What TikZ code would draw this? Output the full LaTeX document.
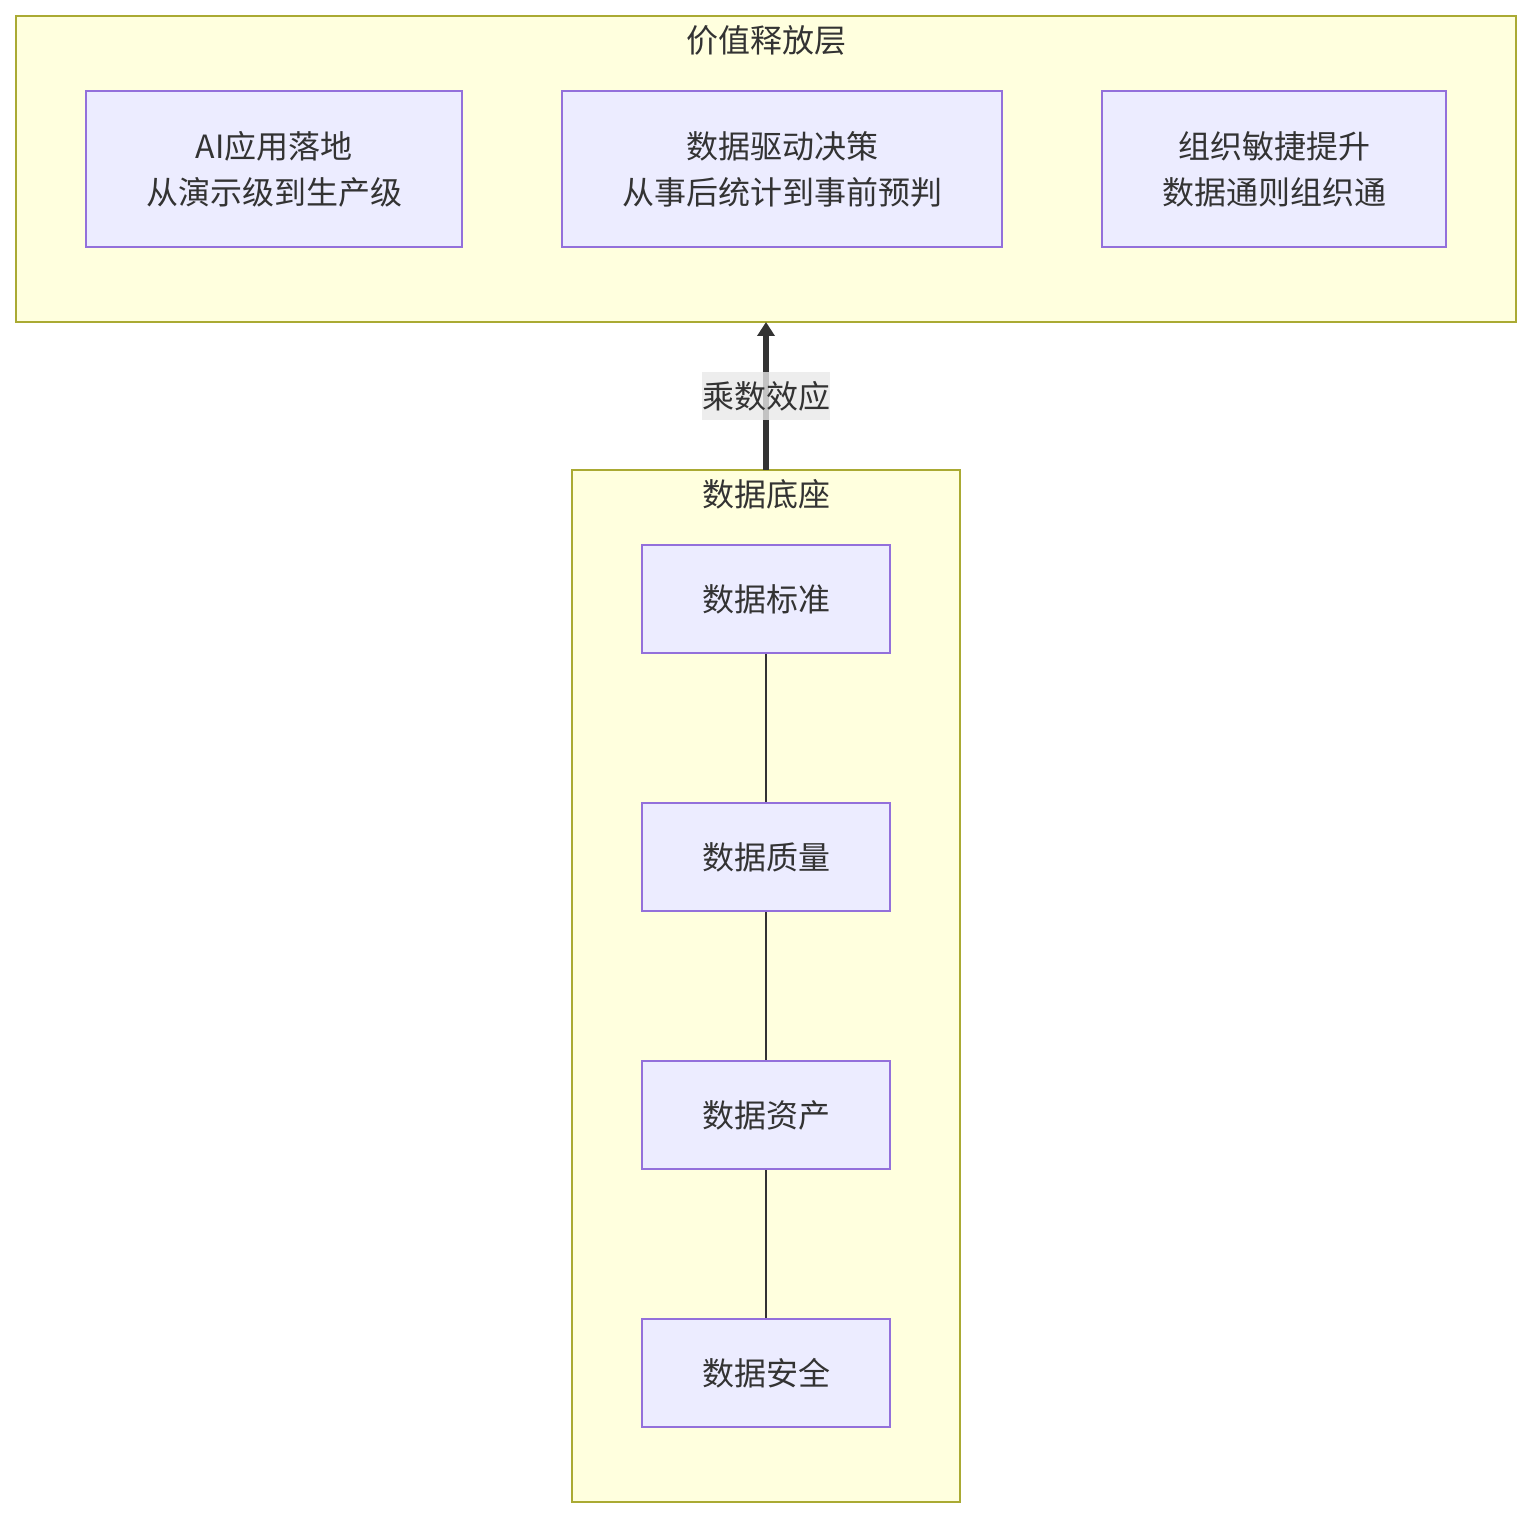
\documentclass[tikz,border=0pt]{standalone}
\usepackage{fontspec}
\setmainfont{Noto Sans CJK SC}
\usetikzlibrary{arrows.meta}
\definecolor{clfill}{HTML}{FFFFDE}
\definecolor{cldraw}{HTML}{AAAA33}
\definecolor{ndfill}{HTML}{ECECFF}
\definecolor{nddraw}{HTML}{9370DB}
\definecolor{txt}{HTML}{333333}
\definecolor{lblbg}{HTML}{E8E8E8}
\tikzset{
  cluster/.style={draw=cldraw, fill=clfill, line width=1pt},
  box/.style={draw=nddraw, fill=ndfill, line width=1pt, text=txt, align=center,
    font=\fontsize{16pt}{23pt}\selectfont, inner sep=0pt},
  title/.style={text=txt, font=\fontsize{16pt}{23pt}\selectfont, inner sep=0pt},
  link/.style={draw=txt, line width=1pt},
  biglink/.style={draw=txt, line width=3.4pt, -{Triangle[width=8.5pt,length=7pt]}},
}
\begin{document}
\begin{tikzpicture}[x=0.5pt,y=-0.5pt]
\useasboundingbox (0,0) rectangle (1532,1518);
% clusters
\path[cluster] (16,16) rectangle (1516,322);
\node[title] (ttop) at (766,40) {价值释放层};
\path[cluster] (572,470) rectangle (960,1502);
\node[title] (tbot) at (766,494) {数据底座};
% top nodes
\node[box, minimum width=188pt, minimum height=78pt] (a1) at (274,169) {AI应用落地\\从演示级到生产级};
\node[box, minimum width=220pt, minimum height=78pt] (a2) at (782,169) {数据驱动决策\\从事后统计到事前预判};
\node[box, minimum width=172pt, minimum height=78pt] (a3) at (1274,169) {组织敏捷提升\\数据通则组织通};
% bottom nodes
\node[box, minimum width=124pt, minimum height=54pt] (b1) at (766,599) {数据标准};
\node[box, minimum width=124pt, minimum height=54pt] (b2) at (766,857) {数据质量};
\node[box, minimum width=124pt, minimum height=54pt] (b3) at (766,1115) {数据资产};
\node[box, minimum width=124pt, minimum height=54pt] (b4) at (766,1373) {数据安全};
\draw[link] (b1) -- (b2);
\draw[link] (b2) -- (b3);
\draw[link] (b3) -- (b4);
% multiplier arrow
\coordinate (cbot) at (766,470);
\coordinate (ctop) at (766,322);
\draw[biglink] (cbot) -- (ctop);
\node[fill=lblbg, fill opacity=0.8, text opacity=1, text=txt, font=\fontsize{16pt}{23pt}\selectfont,
  inner sep=0pt, minimum width=64pt, minimum height=24pt] (lbl) at (766,396) {乘数效应};
\end{tikzpicture}
\end{document}
